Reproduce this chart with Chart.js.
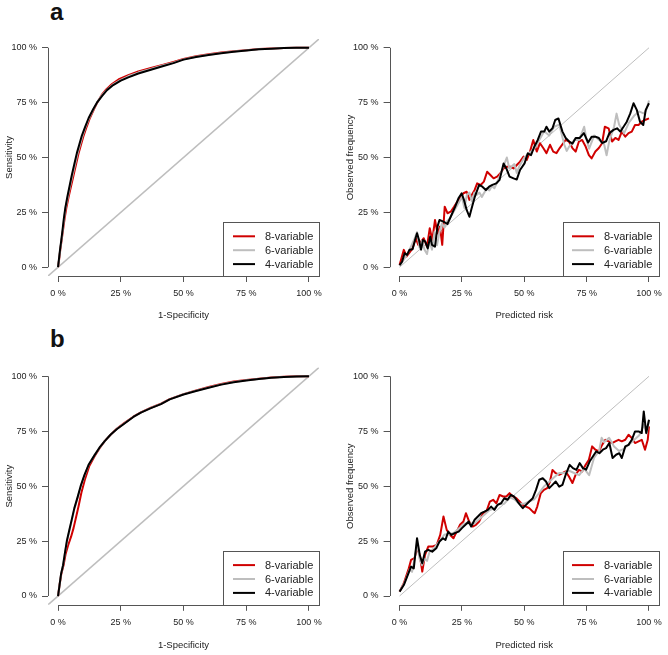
<!DOCTYPE html>
<html><head><meta charset="utf-8">
<script src="https://cdn.jsdelivr.net/npm/chart.js@4.4.1/dist/chart.umd.min.js"></script>
<style>
html,body{margin:0;padding:0;background:#fff;width:668px;height:655px;overflow:hidden}
canvas{position:absolute}
.lbl{position:absolute;font:bold 24px "Liberation Sans",Arial,sans-serif;line-height:24px;color:#111}
</style></head><body>
<div class="lbl" style="left:50px;top:0px">a</div>
<div class="lbl" style="left:50px;top:327px">b</div>
<canvas id="c1" width="334" height="325" style="left:0;top:0"></canvas>
<canvas id="c2" width="334" height="325" style="left:334px;top:0"></canvas>
<canvas id="c3" width="334" height="330" style="left:0;top:325px"></canvas>
<canvas id="c4" width="334" height="330" style="left:334px;top:325px"></canvas>
<script>
const tickValues = [0, 25, 50, 75, 100];
const tickLabels = ['0 %', '25 %', '50 %', '75 %', '100 %'];
const seriesNames = ['8-variable', '6-variable', '4-variable'];
const seriesColors = ['#D00000', '#BEBEBE', '#000000'];
const refLineROC = [-4, 104];
const refLineCal = [0, 100];

// ROC, panel a
const rocA8_fpr = [0,0.5,0.9,1.4,2,2.6,3.3,4.2,5.2,6.2,7.2,8.2,9.2,10.2,11.4,12.7,14.3,15.6,17.4,19.2,21.5,24.5,28,32,37,42,46,50,55,60,65,70,75,80,85,90,95,100];
const rocA8_tpr = [0,4,8,12,17,22,27,32,37,42,47,52,56,60,64,68,72,75,78.5,81,83.5,85.8,87.5,89.2,90.8,92.3,93.5,94.9,96.1,97,97.8,98.4,98.9,99.4,99.7,99.9,100,100];
const rocA6_fpr = [0,0.45,0.85,1.35,1.9,2.4,3,3.9,4.8,5.8,6.8,7.8,8.8,9.8,11,12.4,14.1,15.5,17.4,19.4,21.8,24.8,28,32,37,42,46,50,55,60,65,70,75,80,85,90,95,100];
const rocA6_tpr = [0,4,8,12.2,17,22,27,32,37,42,47,52,56,60,64,68,72,75,78.2,80.8,83.2,85.3,87,88.7,90.4,92,93.2,94.7,95.9,96.8,97.6,98.3,98.8,99.3,99.6,99.9,100,100];
const rocA4_fpr = [0,0.4,0.8,1.3,1.8,2.3,2.9,3.7,4.6,5.5,6.5,7.5,8.5,9.5,10.8,12.2,14,15.5,17.5,19.5,22,25,28,32,37,42,46,50,55,60,65,70,75,80,85,90,95,100];
const rocA4_tpr = [0,4,8,12.3,17,22,27,32,37,42,47,52,56,60,64,68,72,75,78,80.7,83,85,86.5,88.3,90,91.7,93,94.6,95.8,96.7,97.5,98.2,98.8,99.3,99.6,99.9,100,100];

// ROC, panel b
const rocB8_fpr = [0,0.6,1.3,2.2,3,4,5.2,6.2,7.2,8.2,9.3,10.7,12.4,14.5,16.5,18.6,21,23.5,26.5,30,33,37,41,44.5,50,55,60,65,70,75,80,85,90,95,100];
const rocB8_tpr = [0,5,10,14,19,23,27,31,36,41,47,53,59,63.5,67.2,70.5,73.5,76.2,78.8,81.6,83.6,85.7,87.5,89.6,91.9,93.6,95.1,96.5,97.6,98.3,98.9,99.4,99.8,100,100];
const rocB6_fpr = [0,0.6,1.2,2,2.8,3.6,4.6,5.6,6.6,7.9,9.1,10.6,12.3,14.5,16.5,18.6,21,23.5,26.5,30,33,37,41,44.5,50,55,60,65,70,75,80,85,90,95,100];
const rocB6_tpr = [0,5,10,14,20,25,30,35,40,45,50,55,60,64,67.4,70.5,73.5,76.1,78.6,81.5,83.5,85.6,87.4,89.5,91.8,93.4,94.9,96.3,97.4,98.2,98.8,99.3,99.7,99.9,100];
const rocB4_fpr = [0,0.6,1.2,2,2.8,3.5,4.5,5.5,6.5,7.8,9,10.5,12.3,14.5,16.5,18.6,21,23.5,26.5,30,33,37,41,44.5,50,55,60,65,70,75,80,85,90,95,100];
const rocB4_tpr = [0,5,10,14,20,25,30,35,40,45,50,55,60,64,67.5,70.5,73.5,76,78.5,81.5,83.5,85.5,87.3,89.5,91.7,93.3,94.8,96.2,97.3,98.1,98.8,99.3,99.7,99.9,100];

// Calibration, panel a
const calA8_x = [0,1.7,2.8,3.8,5.2,6.5,7.5,8.6,9.7,11,12.1,13.1,14.2,15.2,16.2,17.1,18.1,19.2,20.5,21.9,23.2,24.5,25.6,26.9,28,29,30.1,31.1,32.5,33.8,35.1,36.4,37.7,39.1,40.4,41.7,43,44.4,45.7,47,48.3,49.7,51,52.3,53.6,55,56.3,57.6,58.9,60.3,61.6,62.9,64.2,65.6,66.6,67.9,69.3,70.6,71.9,73.2,74.6,75.9,77,78.5,79.9,81.2,82.3,83.8,85.2,86.5,87.8,89.1,90.5,91.8,93.1,94.4,95.8,97.1,98.4,100];
const calA8_y = [1,7.9,4.9,6.4,8.6,13.2,10.2,11.7,13.2,9.4,17.8,12.4,21.5,15.5,18.5,10.2,27.6,24.6,25.3,27.6,29.9,32.2,33.7,34.4,30.7,33,35.2,38.2,37.5,39,43.5,42,40.5,41.3,42.8,45,45.8,45.8,45,46.6,48.1,50.4,48.9,52.7,58,52.7,56.5,54.3,52,55.8,52.7,52,54.3,56.5,58,57.3,54.3,52.7,57.3,58,55,51.1,49.6,52.7,54.3,56.5,64,63.3,57.3,58.9,58,61.8,59.5,61.1,61.8,64.8,64.8,66.3,67.1,67.8];
const calA6_x = [0,2,4,6,7,8,9,10,11,12,13,14,15,16,17,18,19,20,22,24,25,26,27,28,29,30,31,32,33,34,35,36,37,38,40,42,43,44,46,47,48,50,52,54,56,58,60,62,64,66,67,68,70,72,74,75,76,78,80,82,83,84,86,87,88,90,92,94,96,98,99,100];
const calA6_y = [0.5,4,8,13,16,9,12,8,6,12,8,16,10,16,20,18,21,22,26,30,32,27,33,34,30,34,33,34,32,34,36,35,37,36,41,47,50,45,47,43,46,50,52,54,58,62,60,64,65,56,53,55,58,58,64,58,54,60,58,56,51,57,64,70,65,61,66,69,71,70,72,76];
const calA4_x = [0,1,2,3,4,5.2,6.2,7,7.8,8.6,9.4,10.3,11.3,12.3,13,14.2,15.2,16,17.6,19.2,20.5,22.3,23.6,24.9,25.8,26.9,28,28.9,30.2,31.9,33.2,34.6,35.9,37.2,38.8,40.1,41.7,42.8,44.1,45.7,47,48.3,50.1,51.4,52.7,54,55.4,56.7,58,58.9,60,61.3,62.4,63.7,65.3,66.6,67.9,69.3,70.6,72.2,73.9,75.6,77,78.5,79.9,81.2,82.8,84.1,85.8,87.2,88.5,89.8,91.1,92.5,93.8,95.1,96.4,97.7,98.7,100];
const calA4_y = [1,2.5,6.4,5.6,8,8.2,12.4,15.5,12.4,8,12.4,11.7,8.6,14,10.2,9.4,18.5,21.5,20.8,19.7,23,27.6,31.4,33.7,30.7,26.1,23,26.9,32.2,37.5,36.7,35.2,36.7,37.5,38.2,39.8,47.3,45,41.3,40.5,40,44.3,47.3,51.9,51.1,54.9,58,61.8,61.8,64,61.8,63.3,67.1,67.8,61.8,58.9,57.4,56.3,58.9,58.9,61.1,56.8,59.5,59.5,58.9,56.6,57.4,61.1,62.6,63.3,61.8,64,66.3,70.1,74.7,71.7,66.3,64.8,71.7,74.7];

// Calibration, panel b
const calB8_x = [0,1.7,3.7,4.6,6,7,8.1,9.1,10.2,11.5,13.1,14.9,16.3,17.6,18.9,20.3,21.6,22.9,24.2,25.6,26.6,27.9,29.3,30.6,31.9,33.5,34.8,36.2,37.5,38.8,40.1,41.5,42.8,44.1,45.4,46.8,48.1,49.4,50.7,52,53.4,54.2,55.2,56.6,57.9,59.2,60.3,61.3,62.6,64,65.3,66.6,67.9,69.3,70.6,71.9,73.2,74.6,75.9,77.2,78.5,79.9,81.2,82.5,83.8,85.2,86.5,87.8,89.1,90.5,91.8,93.1,94.4,95.8,97.1,98.4,99.5,100];
const calB8_y = [2,5.8,12.6,16.4,17.2,21.7,18.7,11.1,18.7,22.5,22.5,23.3,27.8,36.2,30.1,27.8,26.3,29.3,32.4,33.9,37.7,33.9,31.6,32.4,33.9,37.7,38.4,43,43.8,42.2,46,45.3,45.3,46.8,45.3,44.5,43,41.5,40.7,40,38.4,37.7,40.7,46.8,48.3,49.1,52.1,57.4,55.9,55.2,55.9,56.7,54.4,51.4,55.2,57.4,56.7,59.7,62,68.1,66.6,65.8,68.8,71.1,70.4,69.6,70.4,71.1,70.4,71.1,73.4,71.9,69.6,70.4,71.1,66.6,71.1,77.2];
const calB6_x = [0,2,4,5,6,7,8,9,10,11,12,14,16,18,20,22,24,26,28,30,32,34,36,38,40,42,44,46,48,50,52,54,56,58,60,62,64,66,68,70,72,74,76,78,80,81,82,84,86,88,90,92,94,96,98,99,100];
const calB6_y = [2,6,12,11,17,24,17,14,17,16,20,22,25,28,28,29,31,33,33,33,35,37,39,40,42,42,45,44,42,42,43,44,47,50,52,54,56,56,57,56,55,58,55,63,66,72,70,72,68,66,67,69,71,73,78,74,80];
const calB4_x = [0,1.7,3.3,4.6,5.7,7,8.1,9.1,10.2,11.5,13.1,14.7,16,17.4,18.4,19.5,20.8,22.1,23.7,25,26.4,27.7,28.7,30.1,31.4,32.7,34,35.4,36.7,38,39.3,40.7,42,43.3,44.6,45.9,47.3,48.3,49.4,50.7,52,53.4,54.7,56,57.4,58.7,60,61.3,62.6,64,65.3,66.6,68.2,69.5,70.9,72.2,73.5,74.8,76.2,77.5,78.8,80.1,81.5,82.8,84.1,85.4,86.8,88.1,89.1,90.5,91.8,93.1,94.4,95.8,97.1,97.9,98.9,100];
const calB4_y = [2,5,9.6,13.4,12.6,26.3,18.7,14.9,20.2,21,20.2,21.7,24.8,26.3,25.5,29.3,27.8,28.6,29.3,30.9,32.4,33.9,31.6,34.7,36.2,37.7,38.4,39.2,40.7,39.2,41.5,42.2,44.5,43.8,46,45.3,43,41.5,40,41.5,43,44.5,48.3,52.9,53.6,52.1,49.1,50.6,52.1,49.8,50.6,55.2,59.7,58.2,57.4,60.5,58.2,57.5,61.2,63.5,65.8,65,66.6,67.3,69.6,62.8,64.3,65,62.8,68.1,68.8,71.1,74.9,74.9,74.2,84,74.2,80.2];

const FONT = '"Liberation Sans", Arial, Helvetica, sans-serif';
const pts = (xs, ys) => xs.map((x, i) => ({x: x, y: ys[i]}));

const axisLinePlugin = {
  id: 'axisLines',
  afterDraw(chart) {
    const {ctx, chartArea, scales: {x, y}} = chart;
    ctx.save();
    ctx.strokeStyle = '#555';
    ctx.lineWidth = 1;
    const xl = Math.round(chartArea.left) + 0.5;
    const yb = Math.round(chartArea.bottom) + 0.5;
    ctx.beginPath();
    ctx.moveTo(xl, y.getPixelForValue(tickValues[0]));
    ctx.lineTo(xl, y.getPixelForValue(tickValues[tickValues.length - 1]));
    ctx.moveTo(x.getPixelForValue(tickValues[0]), yb);
    ctx.lineTo(x.getPixelForValue(tickValues[tickValues.length - 1]), yb);
    ctx.stroke();
    ctx.restore();
  }
};

const boxLegendPlugin = {
  id: 'boxLegend',
  afterDraw(chart, args, opts) {
    const {ctx, chartArea} = chart;
    const items = chart.data.datasets.filter(d => d.label);
    const W = 96, H = 54;
    const left = chartArea.right - W, top = chartArea.bottom - H;
    ctx.save();
    ctx.fillStyle = '#fff';
    ctx.fillRect(left, top, W, H);
    ctx.strokeStyle = '#555';
    ctx.lineWidth = 1;
    ctx.strokeRect(Math.round(left) + 0.5, Math.round(top) + 0.5, W, H);
    ctx.font = '11px ' + FONT;
    ctx.textBaseline = 'middle';
    ctx.textAlign = 'left';
    items.forEach((d, i) => {
      const yy = top + 14.3 + i * 13.9;
      ctx.strokeStyle = d.borderColor;
      ctx.lineWidth = 2;
      ctx.beginPath();
      ctx.moveTo(left + opts.lx0, yy);
      ctx.lineTo(left + opts.lx1, yy);
      ctx.stroke();
      ctx.fillStyle = '#222';
      ctx.fillText(d.label, left + opts.tx, yy + 0.5);
    });
    ctx.restore();
  }
};

function makeScales(xTitle, yTitle, yw, xh, yTitlePad) {
  const font = {family: FONT, size: 9};
  const tfont = {family: FONT, size: 9.5};
  return {
    x: {
      type: 'linear', min: -4, max: 104,
      afterBuildTicks: s => { s.ticks = tickValues.map(v => ({value: v})); },
      afterFit: s => { s.height = xh; },
      ticks: {callback: (v, i) => tickLabels[i], font: font, color: '#222', padding: 6, maxRotation: 0, autoSkip: false},
      grid: {drawOnChartArea: false, drawTicks: true, tickLength: 6, color: '#555', lineWidth: 1},
      border: {display: false},
      title: {display: true, text: xTitle, font: tfont, color: '#222', padding: {top: 0, bottom: 4}}
    },
    y: {
      type: 'linear', min: -4, max: 104,
      afterBuildTicks: s => { s.ticks = tickValues.map(v => ({value: v})); },
      afterFit: s => { s.width = yw; },
      ticks: {callback: (v, i) => tickLabels[i], font: font, color: '#222', padding: 5, autoSkip: false},
      grid: {drawOnChartArea: false, drawTicks: true, tickLength: 6, color: '#555', lineWidth: 1},
      border: {display: false},
      title: {display: true, text: yTitle, font: tfont, color: '#222', padding: {top: yTitlePad, bottom: 0}}
    }
  };
}

function makeChart(id, series, ref, refWidth, xTitle, yTitle, yw, xh, padTop, padRight, yTitlePad, legendOpts) {
  const datasets = [{
    data: pts(ref, ref), borderColor: '#BEBEBE', borderWidth: refWidth, pointRadius: 0, order: 10
  }];
  series.forEach((s, i) => {
    datasets.push({
      label: seriesNames[i], data: pts(s[0], s[1]), borderColor: seriesColors[i],
      borderWidth: 2, pointRadius: 0, tension: 0, order: 3 - i, borderJoinStyle: 'round'
    });
  });
  return new Chart(document.getElementById(id), {
    type: 'line',
    data: {datasets: datasets},
    options: {
      responsive: false, animation: false, devicePixelRatio: 1,
      layout: {padding: {top: padTop, right: padRight, left: 0, bottom: 0}},
      plugins: {legend: {display: false}, tooltip: {enabled: false}, boxLegend: legendOpts},
      scales: makeScales(xTitle, yTitle, yw, xh, yTitlePad)
    },
    plugins: [axisLinePlugin, boxLegendPlugin]
  });
}

const legL = {lx0: 10, lx1: 32, tx: 42};
const legR = {lx0: 9, lx1: 31, tx: 41};

makeChart('c1', [[rocA8_fpr, rocA8_tpr], [rocA6_fpr, rocA6_tpr], [rocA4_fpr, rocA4_tpr]],
  refLineROC, 1.6, '1-Specificity', 'Sensitivity', 48, 49, 39, 15, 3.5, legL);
makeChart('c2', [[calA8_x, calA8_y], [calA6_x, calA6_y], [calA4_x, calA4_y]],
  refLineCal, 1, 'Predicted risk', 'Observed frequency', 55.6, 49, 39, 6.6, 10.5, legR);
makeChart('c3', [[rocB8_fpr, rocB8_tpr], [rocB6_fpr, rocB6_tpr], [rocB4_fpr, rocB4_tpr]],
  refLineROC, 1.6, '1-Specificity', 'Sensitivity', 48, 50.2, 42.5, 15, 3.5, legL);
makeChart('c4', [[calB8_x, calB8_y], [calB6_x, calB6_y], [calB4_x, calB4_y]],
  refLineCal, 1, 'Predicted risk', 'Observed frequency', 55.6, 50.2, 42.5, 6.6, 10.5, legR);
</script>
</body></html>
